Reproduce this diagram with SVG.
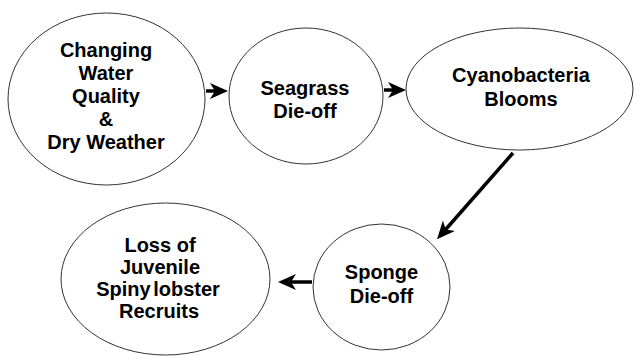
<svg xmlns="http://www.w3.org/2000/svg" width="634" height="358" viewBox="0 0 634 358">
<style>
.node ellipse{fill:#fff;stroke:#333;stroke-width:1}
.node text{font-family:"Liberation Sans",Arial,sans-serif;font-weight:bold;font-size:20px;fill:#000;text-anchor:middle}
.conn line{stroke:#000;stroke-width:3.5;fill:none}
</style>
<defs>
<marker id="ah" markerUnits="userSpaceOnUse" markerWidth="20" markerHeight="18" viewBox="0 0 20 18" refX="7" refY="8" orient="auto">
<path d="M0,0 L18,8 L0,16 L5,8 Z" fill="#000"/>
</marker>
</defs>
<rect width="634" height="358" fill="#fff"/>
<g id="n1" class="node">
<ellipse cx="106.5" cy="99" rx="98.5" ry="86"/>
<text x="106" y="57">Changing</text>
<text x="106" y="80">Water</text>
<text x="106" y="103">Quality</text>
<text x="106" y="126">&amp;</text>
<text x="106" y="149">Dry Weather</text>
</g>
<g id="n2" class="node">
<ellipse cx="306" cy="96" rx="77" ry="68"/>
<text x="305" y="95">Seagrass</text>
<text x="305" y="118">Die-off</text>
</g>
<g id="n3" class="node">
<ellipse cx="519.5" cy="89" rx="113.5" ry="61"/>
<text x="521" y="82">Cyanobacteria</text>
<text x="521" y="106">Blooms</text>
</g>
<g id="n4" class="node">
<ellipse cx="381.5" cy="287" rx="68.5" ry="63"/>
<text x="381.5" y="279">Sponge</text>
<text x="381.5" y="303">Die-off</text>
</g>
<g id="n5" class="node">
<ellipse cx="165.5" cy="279" rx="104.5" ry="76"/>
<text x="160" y="252">Loss of</text>
<text x="160" y="274">Juvenile</text>
<text x="158" y="296" word-spacing="-3">Spiny lobster</text>
<text x="159" y="318">Recruits</text>
</g>
<g id="connectors" class="conn">
<line x1="206" y1="91" x2="217" y2="91" marker-end="url(#ah)"/>
<line x1="384" y1="90" x2="395" y2="90" marker-end="url(#ah)"/>
<line x1="513" y1="153" x2="444.3" y2="231" marker-end="url(#ah)"/>
<line x1="312" y1="282" x2="289" y2="282" marker-end="url(#ah)"/>
</g>
</svg>
